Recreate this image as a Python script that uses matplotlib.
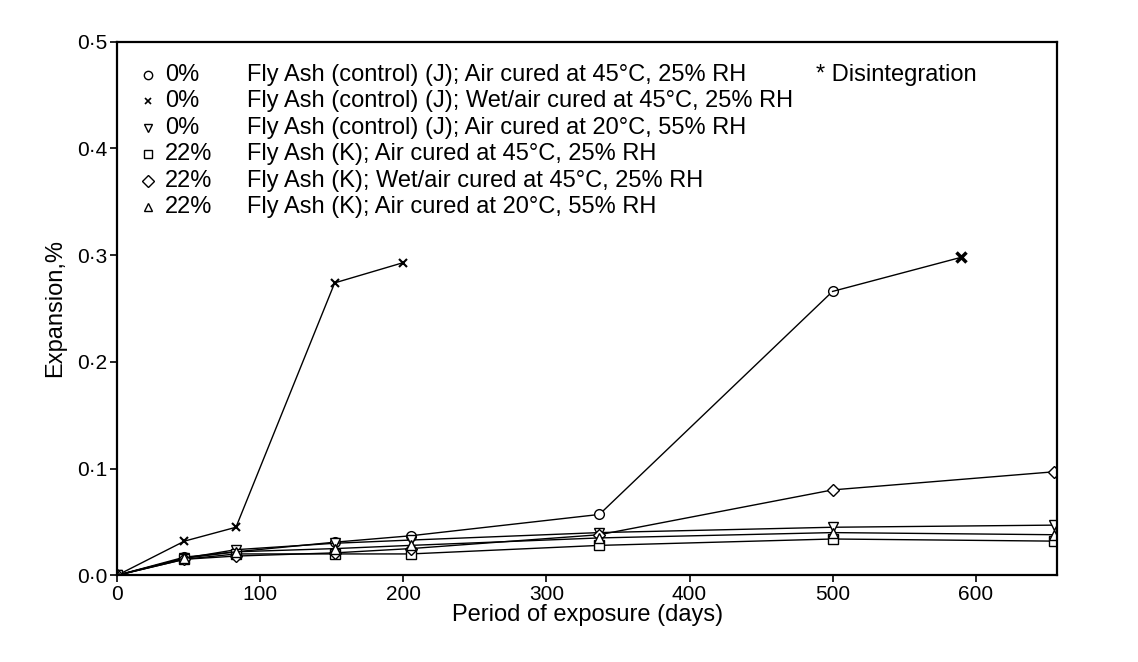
import matplotlib
matplotlib.use('Agg')
import matplotlib.pyplot as plt
from matplotlib.ticker import FuncFormatter

plt.rcParams['font.family'] = ['Liberation Sans', 'DejaVu Sans']

# days of exposure
days_a = [0, 47, 83, 152, 205, 337, 500]
days_full = [0, 47, 83, 152, 205, 337, 500, 655]
days_wet0 = [0, 47, 83, 152, 200]

# expansion, %
exp_air45_0 = [0, 0.017, 0.022, 0.031, 0.037, 0.057, 0.266]
exp_air45_0_disint = [500, 590]
exp_air45_0_disint_y = [0.266, 0.298]
exp_wet45_0 = [0, 0.032, 0.045, 0.274, 0.293]
exp_air20_0 = [0, 0.016, 0.024, 0.030, 0.033, 0.040, 0.045, 0.047]
exp_air45_22 = [0, 0.015, 0.020, 0.020, 0.020, 0.028, 0.034, 0.032]
exp_wet45_22 = [0, 0.015, 0.018, 0.021, 0.025, 0.038, 0.080, 0.097]
exp_air20_22 = [0, 0.016, 0.022, 0.025, 0.028, 0.035, 0.040, 0.038]

pcts = ['0%', '0%', '0%', '22%', '22%', '22%']
labels = [
    'Fly Ash (control) (J); Air cured at 45°C, 25% RH',
    'Fly Ash (control) (J); Wet/air cured at 45°C, 25% RH',
    'Fly Ash (control) (J); Air cured at 20°C, 55% RH',
    'Fly Ash (K); Air cured at 45°C, 25% RH',
    'Fly Ash (K); Wet/air cured at 45°C, 25% RH',
    'Fly Ash (K); Air cured at 20°C, 55% RH',
]
markers = ['o', 'x', 'v', 's', 'D', '^']

fig = plt.figure(figsize=(11.38, 6.62), dpi=100)
ax = fig.add_axes([0.103, 0.131, 0.826, 0.806])

kw = dict(color='black', lw=1.0, mfc='white', mec='black', ms=7)
ax.plot(days_a, exp_air45_0, marker='o', **kw)
ax.plot(exp_air45_0_disint, exp_air45_0_disint_y, color='black', lw=1.0)
ax.plot([590], [0.298], marker='x', color='black', ms=7, mew=2.5, ls='none')
ax.plot(days_wet0, exp_wet45_0, marker='x', color='black', lw=1.0, ms=6, mew=1.5)
ax.plot(days_full, exp_air20_0, marker='v', **kw)
ax.plot(days_full, exp_air45_22, marker='s', **kw)
ax.plot(days_full, exp_wet45_22, marker='D', **dict(kw, ms=6))
ax.plot(days_full, exp_air20_22, marker='^', **kw)

ax.set_xlim(0, 657)
ax.set_ylim(0, 0.5)
ax.set_xticks([0, 100, 200, 300, 400, 500, 600])
ax.set_yticks([0, 0.1, 0.2, 0.3, 0.4, 0.5])
ax.yaxis.set_major_formatter(FuncFormatter(lambda v, p: ('%.1f' % v).replace('.', '·')))
ax.tick_params(direction='out', length=5, width=1.2, labelsize=15, pad=2)
for s in ax.spines.values():
    s.set_linewidth(1.6)
ax.set_xlabel('Period of exposure (days)', fontsize=17, labelpad=0)
ax.set_ylabel('Expansion,%', fontsize=17, labelpad=8)

# hand-drawn legend
y0 = 0.938
dy = 0.0497
for i in range(6):
    y = y0 - i * dy
    m = markers[i]
    if m == 'x':
        ax.plot([0.033], [y], marker='x', color='black', ms=5, mew=1.2,
                transform=ax.transAxes, clip_on=False)
    else:
        ax.plot([0.033], [y], marker=m, mfc='white', mec='black', ms=6,
                transform=ax.transAxes, clip_on=False, ls='none')
    ax.text(0.051, y, pcts[i], transform=ax.transAxes, fontsize=17, va='center')
    ax.text(0.138, y, labels[i], transform=ax.transAxes, fontsize=17, va='center')
ax.text(0.743, y0, '* Disintegration', transform=ax.transAxes, fontsize=17, va='center')

fig.savefig('out.png', dpi=100)
